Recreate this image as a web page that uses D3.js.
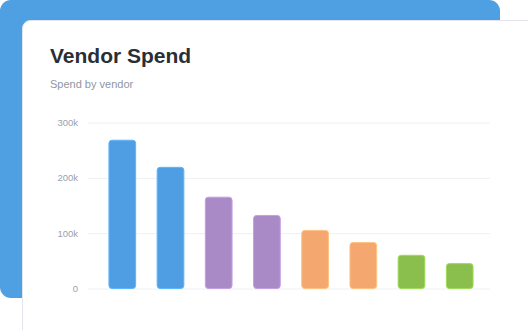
<!DOCTYPE html>
<html>
<head>
<meta charset="utf-8">
<script src="https://cdn.jsdelivr.net/npm/d3@7"></script>
<style>
  html, body { margin: 0; padding: 0; background: #fff; overflow: hidden; }
  svg { display: block; font-family: "Liberation Sans", Arial, sans-serif; }
</style>
</head>
<body>
<div id="chart"></div>
<script>
// データ
var vendors = ["Vendor A", "Vendor B", "Vendor C", "Vendor D", "Vendor E", "Vendor F", "Vendor G", "Vendor H"];
var spend = [268000, 219000, 165000, 132000, 105000, 83000, 60000, 45000];
var groups = ["blue", "blue", "purple", "purple", "orange", "orange", "green", "green"];
var yTicks = [0, 100000, 200000, 300000];
var yTickLabels = ["0", "100k", "200k", "300k"];

var palette = {blue: "#4f9ee3", purple: "#a98ac6", orange: "#f4a870", green: "#8abf4e"};

var W = 528, H = 330;
var svg = d3.select("#chart").append("svg")
  .attr("width", W)
  .attr("height", H);

// 背景のカード
svg.append("rect")
  .attr("x", 0).attr("y", 0)
  .attr("width", 500).attr("height", 298)
  .attr("rx", 11)
  .attr("fill", "#4f9fe3");

svg.append("rect")
  .attr("x", 22.5).attr("y", 20.5)
  .attr("width", 540).attr("height", 340)
  .attr("rx", 8)
  .attr("fill", "#fff")
  .attr("stroke", "#e2e5ec");

svg.append("text")
  .attr("x", 50).attr("y", 63)
  .attr("font-size", 21).attr("font-weight", "bold")
  .attr("fill", "#2a2f36")
  .text("Vendor Spend");

svg.append("text")
  .attr("x", 50).attr("y", 88)
  .attr("font-size", 11)
  .attr("fill", "#8f96a3")
  .text("Spend by vendor");

// スケール
var x = d3.scaleBand().domain(vendors).range([90, 492]).paddingInner(0.446).paddingOuter(0.393);
var y = d3.scaleLinear().domain([0, 300000]).range([288.5, 122.5]);

// グリッド線
var yAxis = d3.axisLeft(y)
  .tickValues(yTicks)
  .tickFormat(function(d, i) { return yTickLabels[i]; })
  .tickSize(-(490 - 88))
  .tickPadding(10);

var gy = svg.append("g")
  .attr("transform", "translate(88,0)")
  .call(yAxis);
gy.select(".domain").remove();
gy.selectAll(".tick line").attr("stroke", "#eef0f3");
gy.selectAll(".tick text")
  .attr("fill", "#9ba1ad")
  .attr("font-size", 9.5)
  .attr("font-family", "Liberation Sans, Arial, sans-serif");

// 棒
svg.append("g").selectAll("rect")
  .data(vendors)
  .enter().append("rect")
  .attr("x", function(d) { return x(d); })
  .attr("y", function(d, i) { return y(spend[i]); })
  .attr("width", x.bandwidth())
  .attr("height", function(d, i) { return y(0) - y(spend[i]); })
  .attr("rx", 3)
  .attr("fill", function(d, i) { return palette[groups[i]]; })
  .attr("stroke", function(d, i) { return d3.color(palette[groups[i]]).brighter(0.4); })
  .attr("stroke-width", 1);
</script>
</body>
</html>
